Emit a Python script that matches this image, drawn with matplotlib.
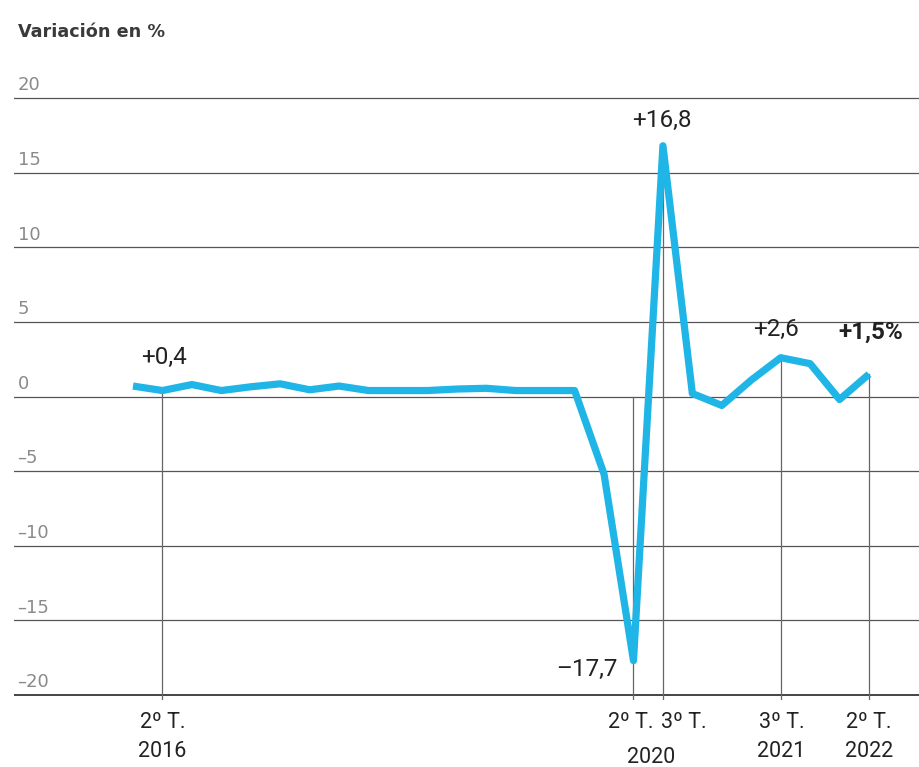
import matplotlib
matplotlib.use("Agg")
import matplotlib.pyplot as plt
import matplotlib.transforms as mtransforms

# ---- data -------------------------------------------------------------
quarters = ["1T16", "2T16", "3T16", "4T16", "1T17", "2T17", "3T17", "4T17",
            "1T18", "2T18", "3T18", "4T18", "1T19", "2T19", "3T19", "4T19",
            "1T20", "2T20", "3T20", "4T20", "1T21", "2T21", "3T21", "4T21",
            "1T22", "2T22"]
values = [0.7, 0.4, 0.8, 0.4, 0.65, 0.85, 0.45, 0.7,
          0.4, 0.4, 0.4, 0.5, 0.55, 0.4, 0.4, 0.4,
          -5.2, -17.7, 16.8, 0.2, -0.6, 1.1, 2.6, 2.2,
          -0.2, 1.5]
yticks = [20, 15, 10, 5, 0, -5, -10, -15, -20]
ytick_labels = ["20", "15", "10", "5", "0", "\u20135", "\u201310", "\u201315", "\u201320"]

marked = ["2T16", "2T20", "3T20", "3T21", "2T22"]
xlabels_top = ["2\u00ba T.", "2\u00ba T.", "3\u00ba T.", "3\u00ba T.", "2\u00ba T."]
year_labels = [("2016", ["2T16"]), ("2020", ["2T20", "3T20"]),
               ("2021", ["3T21"]), ("2022", ["2T22"])]
annotations = {"2T16": "+0,4", "3T20": "+16,8", "2T20": "\u201317,7",
               "3T21": "+2,6", "2T22": "+1,5%"}

# ---- figure -----------------------------------------------------------
W, H = 920, 767
fig = plt.figure(figsize=(W / 100, H / 100), dpi=100)
fig.patch.set_facecolor("white")
ax = fig.add_axes([14 / W, (H - 700) / H, (W - 14) / W, 620 / H])

xs = list(range(len(quarters)))
px_per_q = 29.44
ax.set_xlim((14 - 133) / px_per_q, (920 - 133) / px_per_q)
ppu = 14.92
ax.set_ylim(-20 - 5 / ppu, 20 + 18 / ppu)
ax.axis("off")

rob = ["Roboto", "DejaVu Sans"]

# gridlines
for v in yticks:
    if v == -20:
        ax.axhline(v, color="#444444", lw=1.4, zorder=1)
    else:
        ax.axhline(v, color="#555555", lw=0.9, zorder=1)

trans = mtransforms.blended_transform_factory(ax.transAxes, ax.transData)
for v, lab in zip(yticks, ytick_labels):
    ax.text(0.004, v + 0.25, lab, transform=trans, ha="left", va="bottom",
            fontsize=13, color="#8a8a8a", family=["DejaVu Sans"])

# vertical marker lines
idx = {q: i for i, q in enumerate(quarters)}
for q in marked:
    i = idx[q]
    top = max(values[i], 0)
    ax.plot([i, i], [-20.3, top], color="#666666", lw=0.9, zorder=2)

# main line
ax.plot(xs, values, color="#1fb5e6", lw=5.2, solid_joinstyle="round",
        solid_capstyle="butt", zorder=3)

# annotations
ann_pos = {"2T16": (0.05, 2.6), "3T20": (-0.05, 18.5), "2T20": (-1.6, -18.3),
           "3T21": (-0.15, 4.5), "2T22": (0.05, 4.3)}
for q, txt in annotations.items():
    i = idx[q]
    dx, y = ann_pos[q]
    ax.text(i + dx, y, txt, ha="center", va="center", fontsize=17.5,
            color="#222222", family=rob,
            fontweight="bold" if q == "2T22" else "normal")

# x labels
xl_dx = {"2T16": 0.0, "2T20": -0.1, "3T20": 0.7, "3T21": 0.05, "2T22": 0.0}
for q, lab in zip(marked, xlabels_top):
    ax.text(idx[q] + xl_dx[q], -20 - 27 / ppu, lab, ha="center", va="center",
            fontsize=15.5, color="#222222", family=rob)
for yr, qs in year_labels:
    xc = sum(idx[q] for q in qs) / len(qs)
    yoff = 62 if yr == "2020" else 56
    ax.text(xc + (0.1 if yr == "2020" else 0), -20 - yoff / ppu, yr,
            ha="center", va="center", fontsize=15.5, color="#222222", family=rob)

fig.text(18 / W, 1 - 32 / H, "Variaci\u00f3n en %", ha="left", va="center",
         fontsize=12.7, fontweight="bold", color="#3a3a3a", family=["DejaVu Sans"])

fig.savefig("out.png", dpi=100, facecolor="white")
